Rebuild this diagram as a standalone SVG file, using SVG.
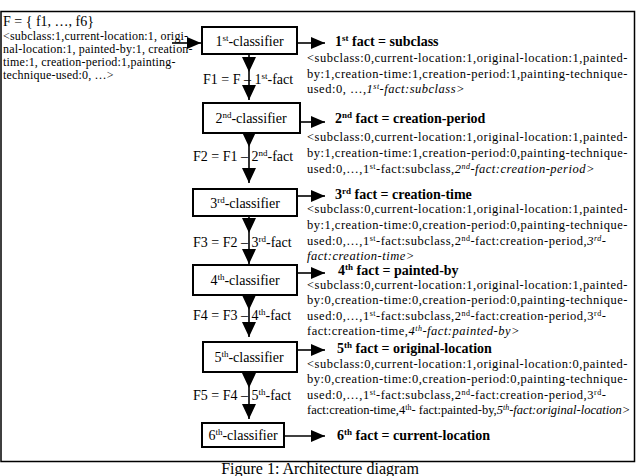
<svg xmlns="http://www.w3.org/2000/svg" width="640" height="476" viewBox="0 0 640 476">
<style>
text{font-family:"Liberation Serif","Times New Roman",serif;fill:#000}
.in{font-size:12px;letter-spacing:0.2px}
.fs{font-size:14px}
.hd{font-size:14px;font-weight:bold}
.dt{font-size:12.5px;letter-spacing:0.5px}
.cl{font-size:14px;text-anchor:middle}
.lb{font-size:14px}
.box{fill:#fff;stroke:#000;stroke-width:2}
.ln{stroke:#000;stroke-width:1.6;fill:none}
.it{font-style:italic}
.cap{font-size:16px;text-anchor:middle}
</style>
<defs>
<marker id="av" markerUnits="userSpaceOnUse" markerWidth="15" markerHeight="14" refX="15" refY="7" orient="auto"><path d="M0,0L15,7L0,14z" fill="#000"/></marker>
<marker id="ah" markerUnits="userSpaceOnUse" markerWidth="14" markerHeight="12" refX="14" refY="6" orient="auto"><path d="M0,0L14,6L0,12z" fill="#000"/></marker>
</defs>
<rect x="1" y="11.5" width="633.5" height="450" fill="none" stroke="#000" stroke-width="1.5"/>

<g id="input">
<text class="fs" x="3" y="25.5">F = { f1, …, f6}</text>
<text class="in" x="3" y="40">&lt;subclass:1,current-location:1, origi-</text>
<text class="in" x="3" y="53">nal-location:1, painted-by:1, creation-</text>
<text class="in" x="3" y="66">time:1, creation-period:1,painting-</text>
<text class="in" x="3" y="79">technique-used:0, …&gt;</text>
</g>

<g id="connectors">
<line class="ln" x1="172" y1="43" x2="201" y2="43" marker-end="url(#ah)"/>
<line class="ln" x1="297" y1="43" x2="325" y2="43" marker-end="url(#ah)"/>
<line class="ln" x1="300" y1="122" x2="325" y2="122" marker-end="url(#ah)"/>
<line class="ln" x1="297" y1="196" x2="325" y2="196" marker-end="url(#ah)"/>
<line class="ln" x1="297" y1="273" x2="325" y2="273" marker-end="url(#ah)"/>
<line class="ln" x1="297" y1="350" x2="325" y2="350" marker-end="url(#ah)"/>
<line class="ln" x1="284" y1="436" x2="325" y2="436" marker-end="url(#ah)"/>
<line class="ln" x1="249" y1="54" x2="249" y2="72" marker-end="url(#av)"/>
<line class="ln" x1="249" y1="72" x2="249" y2="100" marker-end="url(#av)"/>
<line class="ln" x1="249" y1="133" x2="249" y2="147" marker-end="url(#av)"/>
<line class="ln" x1="249" y1="147" x2="249" y2="183" marker-end="url(#av)"/>
<line class="ln" x1="249" y1="216" x2="249" y2="233" marker-end="url(#av)"/>
<line class="ln" x1="249" y1="233" x2="249" y2="264" marker-end="url(#av)"/>
<line class="ln" x1="249" y1="295" x2="249" y2="310" marker-end="url(#av)"/>
<line class="ln" x1="249" y1="310" x2="249" y2="337" marker-end="url(#av)"/>
<line class="ln" x1="249" y1="372" x2="249" y2="388" marker-end="url(#av)"/>
<line class="ln" x1="249" y1="388" x2="249" y2="419" marker-end="url(#av)"/>
</g>

<g id="labels">
<text class="lb" x="203" y="84">F1 = F – 1<tspan font-size="9" dy="-5">st</tspan><tspan dy="5">-fact</tspan></text>
<text class="lb" x="193" y="161">F2 = F1 – 2<tspan font-size="9" dy="-5">nd</tspan><tspan dy="5">-fact</tspan></text>
<text class="lb" x="193" y="247">F3 = F2 – 3<tspan font-size="9" dy="-5">rd</tspan><tspan dy="5">-fact</tspan></text>
<text class="lb" x="193" y="320">F4 = F3 – 4<tspan font-size="9" dy="-5">th</tspan><tspan dy="5">-fact</tspan></text>
<text class="lb" x="193" y="400">F5 = F4 – 5<tspan font-size="9" dy="-5">th</tspan><tspan dy="5">-fact</tspan></text>
</g>

<g id="c1"><rect class="box" x="202" y="27" width="95" height="27"/><text class="cl" x="249.5" y="46">1<tspan font-size="9" dy="-5">st</tspan><tspan dy="5">-classifier</tspan></text></g>
<g id="c2"><rect class="box" x="203" y="103" width="97" height="30"/><text class="cl" x="251" y="123">2<tspan font-size="9" dy="-5">nd</tspan><tspan dy="5">-classifier</tspan></text></g>
<g id="c3"><rect class="box" x="193" y="189" width="104" height="27"/><text class="cl" x="245" y="208">3<tspan font-size="9" dy="-5">rd</tspan><tspan dy="5">-classifier</tspan></text></g>
<g id="c4"><rect class="box" x="193" y="265" width="104" height="30"/><text class="cl" x="245" y="285">4<tspan font-size="9" dy="-5">th</tspan><tspan dy="5">-classifier</tspan></text></g>
<g id="c5"><rect class="box" x="203" y="342" width="94" height="30"/><text class="cl" x="249" y="362">5<tspan font-size="9" dy="-5">th</tspan><tspan dy="5">-classifier</tspan></text></g>
<g id="c6"><rect class="box" x="202" y="423" width="82" height="24"/><text class="cl" x="243" y="440">6<tspan font-size="9" dy="-5">th</tspan><tspan dy="5">-classifier</tspan></text></g>

<g id="f1">
<text class="hd" x="335" y="46">1<tspan font-size="9" dy="-5">st</tspan><tspan dy="5"> fact = subclass</tspan></text>
<text class="dt" x="307" y="62">&lt;subclass:0,current-location:1,original-location:1,painted-</text>
<text class="dt" x="307" y="77.5">by:1,creation-time:1,creation-period:1,painting-technique-</text>
<text class="dt" x="307" y="93">used:0, …,<tspan class="it">1<tspan font-size="8" dy="-4">st</tspan><tspan dy="4">-fact:subclass&gt;</tspan></tspan></text>
</g>
<g id="f2">
<text class="hd" x="335" y="123">2<tspan font-size="9" dy="-5">nd</tspan><tspan dy="5"> fact = creation-period</tspan></text>
<text class="dt" x="307" y="141">&lt;subclass:0,current-location:1,original-location:1,painted-</text>
<text class="dt" x="307" y="157">by:1,creation-time:1,creation-period:0,painting-technique-</text>
<text class="dt" x="307" y="173">used:0,…,1<tspan font-size="8" dy="-4">st</tspan><tspan dy="4">-fact:subclass,</tspan><tspan class="it">2<tspan font-size="8" dy="-4">nd</tspan><tspan dy="4">-fact:creation-period&gt;</tspan></tspan></text>
</g>
<g id="f3">
<text class="hd" x="335" y="199">3<tspan font-size="9" dy="-5">rd</tspan><tspan dy="5"> fact = creation-time</tspan></text>
<text class="dt" x="307" y="213">&lt;subclass:0,current-location:1,original-location:1,painted-</text>
<text class="dt" x="307" y="229">by:1,creation-time:0,creation-period:0,painting-technique-</text>
<text class="dt" x="307" y="244.5">used:0,…,1<tspan font-size="8" dy="-4">st</tspan><tspan dy="4">-fact:subclass,2</tspan><tspan font-size="8" dy="-4">nd</tspan><tspan dy="4">-fact:creation-period,</tspan><tspan class="it">3<tspan font-size="8" dy="-4">rd</tspan><tspan dy="4">-</tspan></tspan></text>
<text class="dt it" x="307" y="260">fact:creation-time&gt;</text>
</g>
<g id="f4">
<text class="hd" x="338" y="275">4<tspan font-size="9" dy="-5">th</tspan><tspan dy="5"> fact = painted-by</tspan></text>
<text class="dt" x="307" y="289">&lt;subclass:0,current-location:1,original-location:1,painted-</text>
<text class="dt" x="307" y="304">by:0,creation-time:0,creation-period:0,painting-technique-</text>
<text class="dt" x="307" y="319.5">used:0,…,1<tspan font-size="8" dy="-4">st</tspan><tspan dy="4">-fact:subclass,2</tspan><tspan font-size="8" dy="-4">nd</tspan><tspan dy="4">-fact:creation-period,3</tspan><tspan font-size="8" dy="-4">rd</tspan><tspan dy="4">-</tspan></text>
<text class="dt" x="307" y="334.5">fact:creation-time,<tspan class="it">4<tspan font-size="8" dy="-4">th</tspan><tspan dy="4">-fact:painted-by&gt;</tspan></tspan></text>
</g>
<g id="f5">
<text class="hd" x="337" y="352.5">5<tspan font-size="9" dy="-5">th</tspan><tspan dy="5"> fact = original-location</tspan></text>
<text class="dt" x="307" y="368">&lt;subclass:0,current-location:1,original-location:0,painted-</text>
<text class="dt" x="307" y="383">by:0,creation-time:0,creation-period:0,painting-technique-</text>
<text class="dt" x="307" y="399">used:0,…,1<tspan font-size="8" dy="-4">st</tspan><tspan dy="4">-fact:subclass,2</tspan><tspan font-size="8" dy="-4">nd</tspan><tspan dy="4">-fact:creation-period,3</tspan><tspan font-size="8" dy="-4">rd</tspan><tspan dy="4">-</tspan></text>
<text class="dt" x="307" y="414" style="letter-spacing:0px">fact:creation-time,4<tspan font-size="8" dy="-4">th</tspan><tspan dy="4">- fact:painted-by,</tspan><tspan class="it">5<tspan font-size="8" dy="-4">th</tspan><tspan dy="4">-fact:original-location&gt;</tspan></tspan></text>
</g>
<g id="f6">
<text class="hd" x="337" y="440">6<tspan font-size="9" dy="-5">th</tspan><tspan dy="5"> fact = current-location</tspan></text>
</g>

<text class="cap" x="320" y="474">Figure 1: Architecture diagram</text>
</svg>
